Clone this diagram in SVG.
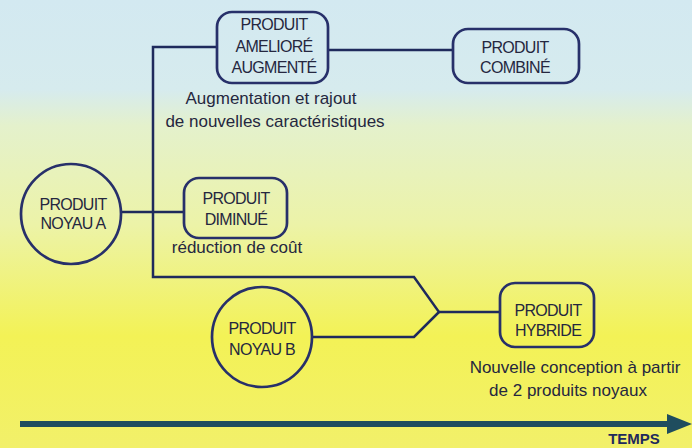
<svg xmlns="http://www.w3.org/2000/svg" width="692" height="448" viewBox="0 0 692 448">
<defs>
<linearGradient id="bg" x1="0" y1="0" x2="0" y2="1">
<stop offset="0" stop-color="#d3e9f1"/>
<stop offset="0.2" stop-color="#d6ebee"/>
<stop offset="0.28" stop-color="#e4f1cc"/>
<stop offset="0.5" stop-color="#ecf3a8"/>
<stop offset="0.75" stop-color="#f3f256"/>
<stop offset="1" stop-color="#f2f06a"/>
</linearGradient>
<style>
.node{fill:none;stroke:#27306a;stroke-width:2.7}
.conn{fill:none;stroke:#1f2a5c;stroke-width:2.5;stroke-linejoin:miter}
.lbl{font-family:"Liberation Sans",Arial,sans-serif;font-size:16px;fill:#25273f;text-anchor:middle;letter-spacing:-0.7px}
.cap{font-family:"Liberation Sans",Arial,sans-serif;font-size:17px;fill:#25273f;text-anchor:middle}
</style>
</defs>
<rect x="0" y="0" width="692" height="448" fill="url(#bg)"/>
<g id="connectors">
<path class="conn" d="M217,47 H153 V277 H414 L439,312 L414,337 H312"/>
<path class="conn" d="M439,312 H500"/>
<path class="conn" d="M121,212 H184"/>
<path class="conn" d="M328,50 H453"/>
</g>
<g id="produit-ameliore">
<rect class="node" x="217" y="12" width="111" height="71" rx="15"/>
<text class="lbl" x="274" y="30">PRODUIT</text>
<text class="lbl" x="274" y="52">AMELIORÉ</text>
<text class="lbl" x="274" y="73">AUGMENTÉ</text>
<text class="cap" x="271" y="104">Augmentation et rajout</text>
<text class="cap" x="275" y="127">de nouvelles caractéristiques</text>
</g>
<g id="produit-combine">
<rect class="node" x="453" y="29" width="126" height="54" rx="15"/>
<text class="lbl" x="515" y="53">PRODUIT</text>
<text class="lbl" x="515" y="73">COMBINÉ</text>
</g>
<g id="produit-noyau-a">
<circle class="node" cx="71" cy="214" r="50"/>
<text class="lbl" x="73" y="210">PRODUIT</text>
<text class="lbl" x="73" y="229">NOYAU A</text>
</g>
<g id="produit-diminue">
<rect class="node" x="184" y="178" width="103" height="60" rx="15"/>
<text class="lbl" x="236" y="204">PRODUIT</text>
<text class="lbl" x="236" y="225">DIMINUÉ</text>
<text class="cap" x="237" y="253">réduction de coût</text>
</g>
<g id="produit-noyau-b">
<circle class="node" cx="262" cy="337" r="50"/>
<text class="lbl" x="262" y="334">PRODUIT</text>
<text class="lbl" x="262" y="355">NOYAU B</text>
</g>
<g id="produit-hybride">
<rect class="node" x="500" y="283" width="94" height="64" rx="15"/>
<text class="lbl" x="548" y="316">PRODUIT</text>
<text class="lbl" x="548" y="336">HYBRIDE</text>
<text class="cap" x="575" y="373">Nouvelle conception à partir</text>
<text class="cap" x="568" y="396">de 2 produits noyaux</text>
</g>
<g id="temps">
<line x1="20" y1="424" x2="672" y2="424" stroke="#1f4d5e" stroke-width="6"/>
<polygon points="667,414 692,424 667,434" fill="#1f4d5e"/>
<text x="634" y="444" font-family="'Liberation Sans',Arial,sans-serif" font-size="15" font-weight="bold" fill="#1f2a5c" text-anchor="middle">TEMPS</text>
</g>
</svg>
